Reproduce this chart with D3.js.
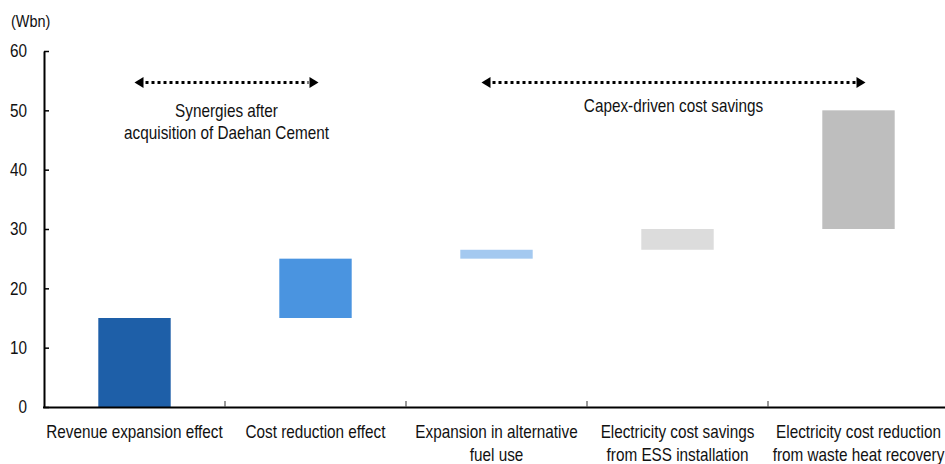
<!DOCTYPE html>
<html>
<head>
<meta charset="utf-8">
<script src="https://cdn.jsdelivr.net/npm/d3@7"></script>
<style>
  html, body { margin: 0; padding: 0; background: #fff; }
  svg text { font-family: "Liberation Sans", Arial, sans-serif; fill: #111; }
</style>
</head>
<body>
<svg id="chart" width="945" height="464"></svg>
<script>
// Waterfall components of the earnings uplift (Wbn)
const categories = [
  ["Revenue expansion effect"],
  ["Cost reduction effect"],
  ["Expansion in alternative", "fuel use"],
  ["Electricity cost savings", "from ESS installation"],
  ["Electricity cost reduction", "from waste heat recovery"]
];
const increments = [15, 10, 1.5, 3.5, 20];
const barColors = ["#1E5FA8", "#4A94E0", "#A4C9F0", "#DCDCDC", "#BEBEBE"];
const yTicks = [0, 10, 20, 30, 40, 50, 60];
const unitLabel = "(Wbn)";

// Bracketed groups drawn above the bars (first/last category index)
const groups = [
  { from: 0, to: 1, lines: ["Synergies after", "acquisition of Daehan Cement"] },
  { from: 2, to: 4, lines: ["Capex-driven cost savings"] }
];

const FS = 18;        // base font size
const SQUEEZE = 0.85; // horizontal condensing of the sans face

const svg = d3.select("#chart");
const keys = categories.map((c, i) => i);

// Running totals for floating bars
let acc = 0;
const bars = increments.map((v, i) => {
  const d = { i, start: acc, end: acc + v, color: barColors[i] };
  acc += v;
  return d;
});

const x = d3.scaleBand().domain(keys).range([44, 949]).paddingInner(0.6).paddingOuter(0.3);
const y = d3.scaleLinear().domain([0, 60]).range([407, 51]);
const step = x.step();

// Condensed multi-line text block anchored at (cx, cy)
function label(parent, cx, cy, lines, anchor, lineGap) {
  const t = parent.append("text")
    .attr("transform", `translate(${cx},${cy}) scale(${SQUEEZE},1)`)
    .attr("text-anchor", anchor)
    .attr("font-size", FS);
  lines.forEach((ln, j) => {
    t.append("tspan").attr("x", 0).attr("dy", j === 0 ? 0 : lineGap).text(ln);
  });
  return t;
}

// Bars
svg.append("g").selectAll("rect").data(bars).join("rect")
  .attr("x", d => x(d.i))
  .attr("width", x.bandwidth())
  .attr("y", d => y(d.end))
  .attr("height", d => y(d.start) - y(d.end))
  .attr("fill", d => d.color);

// Y axis
const yAxis = svg.append("g").attr("transform", "translate(44,0)")
  .call(d3.axisLeft(y).tickValues(yTicks).tickSize(-5).tickSizeOuter(0).tickPadding(17));
yAxis.select(".domain").attr("stroke", "#000").attr("stroke-width", 2);
yAxis.selectAll(".tick line").attr("stroke", "#000").attr("stroke-width", 1.5);
yAxis.selectAll(".tick text")
  .attr("x", 0)
  .attr("transform", `translate(-17,0) scale(${SQUEEZE},1)`)
  .attr("font-size", FS)
  .style("font-family", "'Liberation Sans', Arial, sans-serif")
  .attr("fill", "#111");

label(svg, 11, 27, [unitLabel], "start", 0).attr("font-size", 17);

// X axis baseline and category boundary ticks
const x0 = x.range()[0];
svg.append("line")
  .attr("x1", x0 - 1).attr("x2", 945)
  .attr("y1", y(0) + 0.5).attr("y2", y(0) + 0.5)
  .attr("stroke", "#000").attr("stroke-width", 2);

svg.append("g").selectAll("line").data(keys.slice(1)).join("line")
  .attr("x1", d => x(d) - x.paddingInner() * step / 2)
  .attr("x2", d => x(d) - x.paddingInner() * step / 2)
  .attr("y1", y(0) - 6).attr("y2", y(0))
  .attr("stroke", "#555").attr("stroke-width", 1.2);

// Category labels
const labG = svg.append("g");
keys.forEach(k => label(labG, x(k) + x.bandwidth() / 2, 438, categories[k], "middle", 23));

// Group arrows
const arrowY = 82.5;
const head = 9, halfH = 5.5;
const centre = i => x(i) + x.bandwidth() / 2;
const gArr = svg.append("g");
groups.forEach((g, k) => {
  const left = k === 0 ? centre(g.from) : centre(g.from) - 15;
  const right = k === 0 ? centre(g.to) + 3 : centre(g.to) + 7;
  gArr.append("line")
    .attr("x1", left + head + 2).attr("x2", right - head - 1)
    .attr("y1", arrowY).attr("y2", arrowY)
    .attr("stroke", "#000").attr("stroke-width", 3).attr("stroke-dasharray", "3,3");
  gArr.append("path")
    .attr("d", `M${left},${arrowY} L${left + head},${arrowY - halfH} L${left + head},${arrowY + halfH} Z`)
    .attr("fill", "#000");
  gArr.append("path")
    .attr("d", `M${right},${arrowY} L${right - head},${arrowY - halfH} L${right - head},${arrowY + halfH} Z`)
    .attr("fill", "#000");
  const mid = (left + right) / 2;
  label(gArr, mid, g.lines.length > 1 ? 117 : 112, g.lines, "middle", 22);
});
</script>
</body>
</html>
